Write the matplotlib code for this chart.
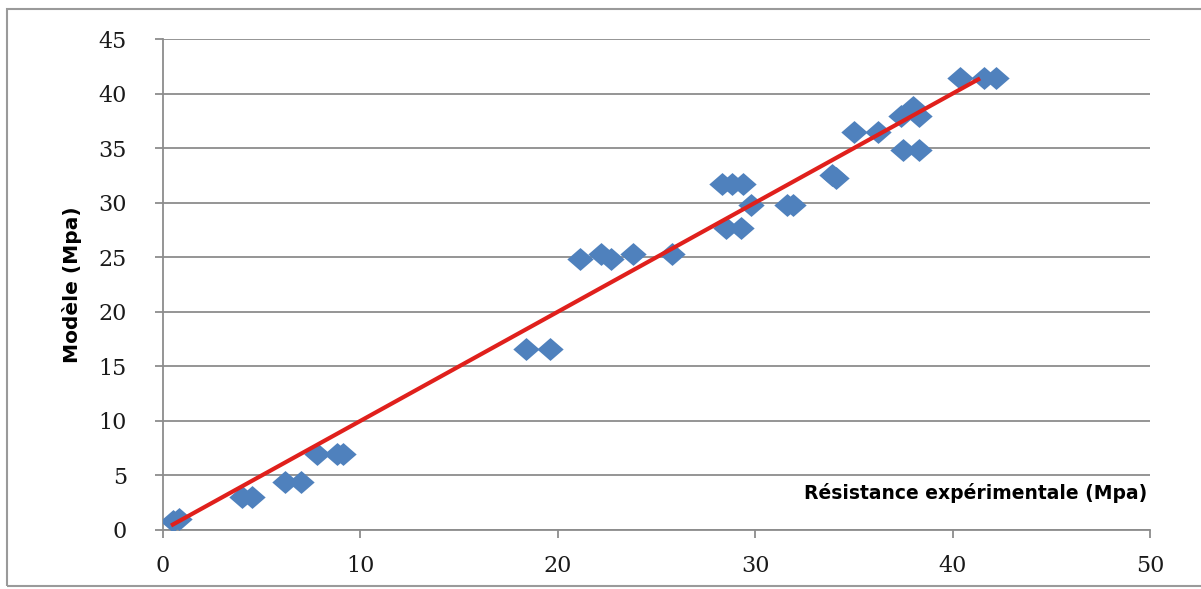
import matplotlib.pyplot as plt
from matplotlib.patches import Rectangle

# experimental strength vs model (Mpa)
exp_x = [0.5, 0.8, 4.0, 4.5, 6.2, 7.0, 7.8, 8.8, 9.1,
         18.4, 19.6, 21.1, 22.2, 22.7, 23.8, 25.8,
         28.3, 28.8, 29.4, 28.5, 29.3, 29.8, 31.6, 31.9,
         33.9, 34.1, 35.0, 36.2, 37.5, 38.3, 37.4, 38.0, 38.3,
         40.4, 41.6, 42.2]
model_y = [0.8, 1.0, 3.0, 3.0, 4.4, 4.4, 7.0, 7.0, 7.0,
           16.6, 16.6, 24.8, 25.3, 24.8, 25.3, 25.3,
           31.7, 31.7, 31.7, 27.7, 27.7, 29.8, 29.8, 29.8,
           32.5, 32.3, 36.5, 36.5, 34.8, 34.8, 37.9, 38.8, 37.9,
           41.4, 41.4, 41.4]
line_x = [0.5, 41.3]
line_y = [0.5, 41.3]

x_ticks = [0, 10, 20, 30, 40, 50]
y_ticks = [0, 5, 10, 15, 20, 25, 30, 35, 40, 45]

fig = plt.figure(figsize=(12.01, 5.89), dpi=100)
ax = fig.add_axes([163 / 1201, 59 / 589, 987 / 1201, 491 / 589])

ax.grid(True, axis='y', color='#8c8c8c', linewidth=1.3, zorder=0)
# Excel-like diamond, a bit wider than tall
diamond = [(-1.15, 0), (0, 1), (1.15, 0), (0, -1), (-1.15, 0)]
ax.scatter(exp_x, model_y, marker=diamond, s=360, color='#4f81bd', zorder=3, linewidths=0)
ax.plot(line_x, line_y, color='#e0201c', linewidth=3, zorder=4)

ax.set_xlim(0, 50)
ax.set_ylim(0, 45)
ax.set_xticks(x_ticks)
ax.set_yticks(y_ticks)
for side in ['top', 'right']:
    ax.spines[side].set_visible(False)
for side in ['left', 'bottom']:
    ax.spines[side].set_color('#8c8c8c')
    ax.spines[side].set_linewidth(1.3)
ax.tick_params(direction='out', length=6, color='#8c8c8c', width=1.3, labelsize=16)
ax.tick_params(axis='y', pad=20)
ax.tick_params(axis='x', pad=12)
for lab in ax.get_xticklabels() + ax.get_yticklabels():
    lab.set_family('DejaVu Serif')
    lab.set_color('#1a1a1a')

ax.text(0.9975, 0.075, 'Résistance expérimentale (Mpa)', transform=ax.transAxes,
        ha='right', va='center', fontsize=13.5, fontweight='bold', family='DejaVu Sans')
ax.set_ylabel('Modèle (Mpa)', fontsize=14.5, fontweight='bold', family='DejaVu Sans', labelpad=12)

fig.patches.append(Rectangle((7 / 1201, 3 / 589), 1.0, 577 / 589, transform=fig.transFigure,
                             fill=False, edgecolor='#9a9a9a', linewidth=1.5))

fig.savefig('out.png', dpi=100)
